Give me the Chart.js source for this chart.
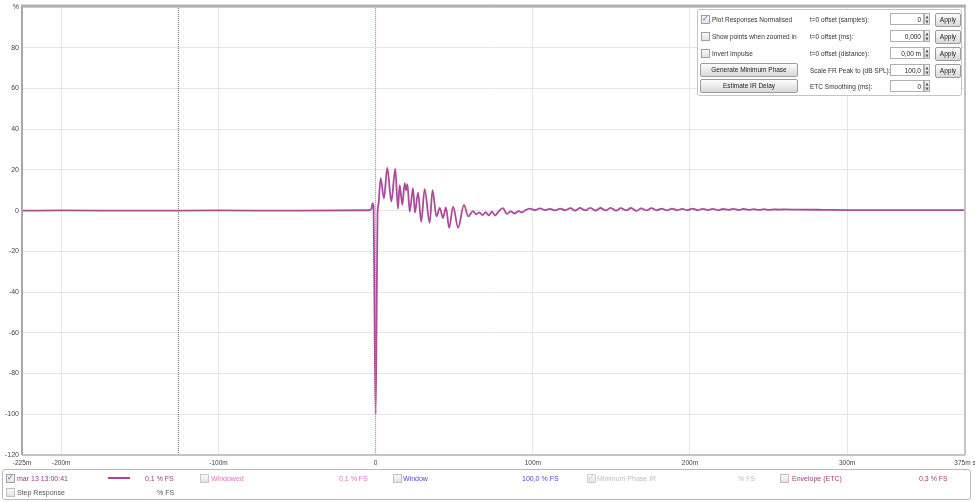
<!DOCTYPE html>
<html>
<head>
<meta charset="utf-8">
<script src="https://cdn.jsdelivr.net/npm/chart.js@4.4.1/dist/chart.umd.min.js"></script>
<style>
  body { margin: 0; background: #fff; font-family: "Liberation Sans", Arial, sans-serif; }
  #wrap { position: relative; width: 975px; height: 502px; overflow: hidden; }
  #plot { position: absolute; left: 0; top: 0; width: 975px; height: 470px; }
  .abs { position: absolute; white-space: nowrap; font-size: 7px; line-height: 9px; }
  .pl { font-size: 6.5px; color: #333; }
  .cb { position: absolute; width: 7px; height: 7px; border: 1px solid #a0a0a0; background: linear-gradient(#fafafa, #e2e2e2); }
  .cb span { position: absolute; left: 0; top: -2px; font-family: "DejaVu Sans"; font-size: 8px; line-height: 10px; color: #4a5aa8; }
  .btn { position: absolute; border: 1px solid #9c9c9c; border-radius: 2px; background: linear-gradient(#fdfdfd, #d8d8d8); font-size: 6.5px; line-height: 11px; text-align: center; color: #222; }
  .inp { position: absolute; width: 34px; height: 12px; border: 1px solid #b0b0b0; background: #fff; font-size: 6.5px; line-height: 12px; text-align: right; padding-right: 2px; box-sizing: border-box; color: #222; }
  .spin { position: absolute; width: 6px; height: 12px; border: 1px solid #b0b0b0; box-sizing: border-box; background: linear-gradient(#fafafa, #e0e0e0); font-family: "DejaVu Sans"; font-size: 4px; line-height: 5px; text-align: center; color: #555; }
  #panel { position: absolute; left: 697px; top: 9px; width: 265px; height: 87px; border: 1px solid #c4c4c4; border-radius: 3px; background: rgba(255,255,255,0.94); box-sizing: border-box; }
  #legend { position: absolute; left: 2px; top: 469px; width: 969px; height: 31px; border: 1px solid #b8b8b8; border-radius: 3px; box-sizing: border-box; }
</style>
</head>
<body>
<div id="wrap">
  <div id="plot"><canvas id="Chart"></canvas></div>

  <div id="panel"></div>
  <div class="cb" style="left:701px;top:15px"><span>✓</span></div>
  <div class="abs pl" style="left:712px;top:15px">Plot Responses Normalised</div>
  <div class="cb" style="left:701px;top:32px"></div>
  <div class="abs pl" style="left:712px;top:32px">Show points when zoomed in</div>
  <div class="cb" style="left:701px;top:49px"></div>
  <div class="abs pl" style="left:712px;top:49px">Invert Impulse</div>
  <div class="btn" style="left:700px;top:63px;width:96px;height:12px">Generate Minimum Phase</div>
  <div class="btn" style="left:700px;top:79px;width:96px;height:12px">Estimate IR Delay</div>

  <div class="abs pl" style="left:810px;top:15px">t=0 offset (samples):</div>
  <div class="abs pl" style="left:810px;top:32px">t=0 offset (ms):</div>
  <div class="abs pl" style="left:810px;top:49px">t=0 offset (distance):</div>
  <div class="abs pl" style="left:810px;top:66px">Scale FR Peak to (dB SPL):</div>
  <div class="abs pl" style="left:810px;top:82px">ETC Smoothing (ms):</div>

  <div class="inp" style="left:890px;top:13px">0</div>
  <div class="spin" style="left:924px;top:13px">▲<br>▼</div>
  <div class="btn" style="left:935px;top:13px;width:24px;height:12px">Apply</div>
  <div class="inp" style="left:890px;top:30px">0,000</div>
  <div class="spin" style="left:924px;top:30px">▲<br>▼</div>
  <div class="btn" style="left:935px;top:30px;width:24px;height:12px">Apply</div>
  <div class="inp" style="left:890px;top:47px">0,00 m</div>
  <div class="spin" style="left:924px;top:47px">▲<br>▼</div>
  <div class="btn" style="left:935px;top:47px;width:24px;height:12px">Apply</div>
  <div class="inp" style="left:890px;top:64px">100,0</div>
  <div class="spin" style="left:924px;top:64px">▲<br>▼</div>
  <div class="btn" style="left:935px;top:64px;width:24px;height:12px">Apply</div>
  <div class="inp" style="left:890px;top:80px">0</div>
  <div class="spin" style="left:924px;top:80px">▲<br>▼</div>

  <div id="legend"></div>
  <div class="cb" style="left:6px;top:474px"><span>✓</span></div>
  <div class="abs" style="left:17px;top:474px;color:#9a3c88">mar 13 13:00:41</div>
  <div style="position:absolute;left:108px;top:477px;width:22px;height:2px;background:#a5468f"></div>
  <div class="abs" style="left:145px;top:474px;color:#9a3c88">0,1 % FS</div>
  <div class="cb" style="left:200px;top:474px;border-color:#c8c8c8"></div>
  <div class="abs" style="left:211px;top:474px;color:#e070c8">Windowed</div>
  <div class="abs" style="left:339px;top:474px;color:#e070c8">0,1 % FS</div>
  <div class="cb" style="left:393px;top:474px;border-color:#c0c0c0"></div>
  <div class="abs" style="left:403px;top:474px;color:#4a4ad0">Window</div>
  <div class="abs" style="left:522px;top:474px;color:#4a4ad0">100,0 % FS</div>
  <div class="cb" style="left:587px;top:474px;border-color:#d0d0d0"><span style="color:#c8c8c8">✓</span></div>
  <div class="abs" style="left:597px;top:474px;color:#c0c0c0">Minimum Phase IR</div>
  <div class="abs" style="left:738px;top:474px;color:#c0c0c0">% FS</div>
  <div class="cb" style="left:780px;top:474px;border-color:#c0c0c0"></div>
  <div class="abs" style="left:792px;top:474px;color:#a0407f">Envelope (ETC)</div>
  <div class="abs" style="left:919px;top:474px;color:#a0407f">0,3 % FS</div>
  <div class="cb" style="left:6px;top:488px;border-color:#c0c0c0"></div>
  <div class="abs" style="left:17px;top:488px;color:#555">Step Response</div>
  <div class="abs" style="left:157px;top:488px;color:#555">% FS</div>
</div>

<script>
// * Impulse response: time in ms, level in % FS
const times = [
  -225, -200, -150, -100, -50, -4, -2.6, -2, -1.3, -0.6, 0, 0.6, 1.2, 1.8,
  3.2, 5.3, 7.4, 10, 12.5, 14.2, 15.3, 17, 18.5, 19.4, 20.2, 21.7, 23.8, 25,
  27, 29, 31.2, 34.4, 36.2, 38.7, 40.8, 42.9, 44.7, 46.8, 49.3, 52.5, 56.2, 58.9,
  62, 64, 66, 68, 70, 72, 74, 76, 78, 81, 83.5, 86, 88.5, 91, 93,
  95, 98, 101.5, 104.5, 108, 111, 114, 117.5, 120.5, 124, 127, 130, 133.5, 136.5,
  140, 143, 146.5, 149.5, 153, 156, 159.5, 162.5, 166, 169, 172.5, 175.5, 179, 182,
  185.5, 188.5, 192, 195, 198.5, 201.5, 205, 208, 211.5, 214.5, 218, 221, 224.5, 227.5,
  231, 234, 237.5, 240.5, 244, 247, 250.5, 253.5, 257, 260, 270, 285, 300, 320, 340, 375
]
const impulse = [
  0, 0.1, 0, 0.1, 0, 0.2, 1, 3.5, 2, -60, -100, -55, -2, 3,
  16, 6, 21, 4.5, 20.5, 1, 12.5, 3, 13.5, 10, 13, -0.5, 11, -1,
  9, -5.5, 10.5, -6, 10, -2.8, 1.3, -3.6, 1.6, -8.5, 2, -8.3, 2.8, -2.8,
  -0.2, -1.8, -0.9, -2.2, -0.8, -2.3, -0.5, -2.4, -0.6, 1.2, -1.6, -0.4, -1.4, -0.2, -0.9,
  0.1, 1.0, 0.2, 1.1, 0.3, 0.9, 0.1, 1.0, 0.2, 1.2, 0.0, 1.3, 0.1, 1.4,
  0.0, 1.3, 0.1, 1.4, 0.0, 1.2, 0.1, 1.3, -0.1, 1.1, 0.1, 1.2, 0.2, 1.0,
  0.1, 1.0, 0.2, 0.9, 0.2, 1.0, 0.2, 0.9, 0.3, 0.9, 0.2, 0.8, 0.4, 0.9,
  0.3, 0.8, 0.4, 0.7, 0.4, 0.7, 0.4, 0.6, 0.5, 0.6, 0.5, 0.4, 0.3, 0.3, 0.3, 0.3
]

// * Cursor lines (ms)
const grayMarker = -125.5
const redMarker = 0

// * Tick labels
const xTickValues = [-225, -200, -100, 0, 100, 200, 300, 375]
const xTickLabels = ['-225m', '-200m', '-100m', '0', '100m', '200m', '300m', '375m s']
const yTickValues = [-120, -100, -80, -60, -40, -20, 0, 20, 40, 60, 80, 100]
const yTickLabels = ['-120', '-100', '-80', '-60', '-40', '-20', '0', '20', '40', '60', '80', '%']

const yMin = -120
const yMax = 100

// * Frame round the plot area
const framePlugin = {
    id: 'frame',
    afterDatasetsDraw(chart) {
        const { ctx, chartArea: a } = chart
        ctx.save()
        ctx.strokeStyle = '#c4c4c4'
        ctx.lineWidth = 2
        ctx.beginPath()
        ctx.moveTo(a.right, a.top); ctx.lineTo(a.right, a.bottom)
        ctx.moveTo(a.left, a.bottom); ctx.lineTo(a.right, a.bottom)
        ctx.stroke()
        ctx.strokeStyle = '#b0b0b0'
        ctx.lineWidth = 3
        ctx.beginPath()
        ctx.moveTo(a.left - 1, a.top - 1); ctx.lineTo(a.right + 1, a.top - 1)
        ctx.stroke()
        ctx.strokeStyle = '#a8a8a8'
        ctx.lineWidth = 2
        ctx.beginPath()
        ctx.moveTo(a.left, a.top); ctx.lineTo(a.left, a.bottom)
        ctx.stroke()
        ctx.restore()
    }
}

const data = {
    datasets: [{
        label: 'mar 13 13:00:41',
        data: times.map((t, i) => ({ x: t, y: impulse[i] })),
        borderColor: '#ab4c98',
        borderWidth: 1.8,
        pointRadius: 0,
        cubicInterpolationMode: 'monotone',
        order: 2
    }, {
        label: 'cursor',
        data: [{ x: grayMarker, y: yMin }, { x: grayMarker, y: yMax }],
        borderColor: '#707070',
        borderWidth: 1,
        borderDash: [1, 1],
        pointRadius: 0,
        tension: 0,
        order: 3
    }, {
        label: 't0',
        data: [{ x: redMarker, y: yMin }, { x: redMarker, y: yMax }],
        borderColor: '#d88080',
        borderWidth: 1,
        borderDash: [1, 1],
        pointRadius: 0,
        tension: 0,
        order: 1
    }]
}

const config = {
    type: 'line',
    data,
    plugins: [framePlugin],
    options: {
        responsive: true,
        maintainAspectRatio: false,
        animation: false,
        layout: { padding: { top: 7, right: 10, left: 0, bottom: 0 } },
        plugins: {
            legend: { display: false },
            tooltip: { enabled: false }
        },
        scales: {
            x: {
                type: 'linear',
                min: -225,
                max: 375,
                afterBuildTicks: s => { s.ticks = xTickValues.map(v => ({ value: v })) },
                afterFit: s => { s.height = 15; s.paddingLeft = 0; s.paddingRight = 0 },
                grid: { color: '#e6e6e6', drawTicks: false },
                border: { display: false },
                ticks: {
                    autoSkip: false,
                    maxRotation: 0,
                    padding: 4,
                    color: '#444',
                    font: { family: 'Liberation Sans', size: 6.5 },
                    callback: v => xTickLabels[xTickValues.indexOf(v)]
                }
            },
            y: {
                min: yMin,
                max: yMax,
                afterBuildTicks: s => { s.ticks = yTickValues.map(v => ({ value: v })) },
                afterFit: s => { s.width = 22; s.paddingTop = 0; s.paddingBottom = 0 },
                grid: { color: '#e6e6e6', drawTicks: false },
                border: { display: false },
                ticks: {
                    padding: 3,
                    color: '#444',
                    font: { family: 'Liberation Sans', size: 7 },
                    callback: v => yTickLabels[yTickValues.indexOf(v)]
                }
            }
        }
    }
}

const irChart = new Chart(document.getElementById('Chart'), config)
</script>
</body>
</html>
